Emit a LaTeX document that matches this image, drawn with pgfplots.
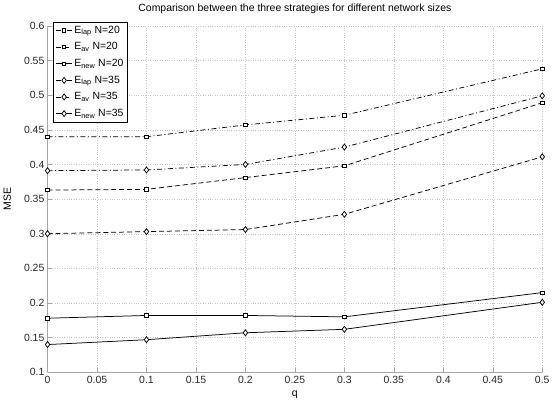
\documentclass[border=0pt]{standalone}
\usepackage{fontspec}
\setmainfont{Liberation Sans}
\usepackage{pgfplots}
\pgfplotsset{compat=1.18}

\begin{document}
\fontsize{10.5}{12}\selectfont
\begin{tikzpicture}
\begin{axis}[
    scale only axis,
    width=497pt, height=348pt,
    xmin=0, xmax=0.5, ymin=0.1, ymax=0.6,
    xtick={0,0.05,0.1,0.15,0.2,0.25,0.3,0.35,0.4,0.45,0.5},
    ytick={0.1,0.15,0.2,0.25,0.3,0.35,0.4,0.45,0.5,0.55,0.6},
    scaled ticks=false,
    /pgf/number format/.cd, fixed, precision=2, assume math mode=true,
    /pgfplots/.cd,
    ticklabel style={font=\fontsize{10.5}{12}\selectfont, text=black!85},
    yticklabel style={xshift=0.5pt},
    axis x line*=bottom, axis y line*=left,
    axis line style={-, gray!70, line width=0.6pt},
    tick align=inside, major tick length=4pt,
    tick style={gray!70, line width=0.5pt},
    grid=major,
    major grid style={dotted, gray!45, line width=0.4pt},
    title={Comparison between the three strategies for different network sizes},
    title style={font=\fontsize{10.5}{12}\selectfont, yshift=3pt},
    xlabel={q}, ylabel={MSE},
    xlabel style={font=\fontsize{10.5}{12}\selectfont, yshift=0pt},
    ylabel style={font=\fontsize{10.5}{12}\selectfont, yshift=6pt},
    legend cell align=left,
    legend style={at={(0.012,1.012)}, anchor=north west, draw=black,
        line width=0.7pt, fill=white, font=\fontsize{10.5}{12}\selectfont,
        row sep=3.8pt, inner sep=2pt},
    legend image code/.code={
        \draw[mark repeat=2, mark phase=2] plot coordinates {(0cm,0cm) (0.28cm,0cm) (0.56cm,0cm)};},
    every axis plot/.append style={black, line width=0.75pt},
]

\addplot[dash pattern=on 5pt off 2.5pt on 1pt off 2.5pt, mark=square*, mark size=1.7pt, mark options={solid, fill=white}]
coordinates {(0,0.440) (0.1,0.440) (0.2,0.457) (0.3,0.471) (0.5,0.538)};
\addlegendentry{E\textsubscript{lap} N=20}

\addplot[dash pattern=on 5pt off 3pt, mark=square*, mark size=1.7pt, mark options={solid, fill=white}]
coordinates {(0,0.363) (0.1,0.364) (0.2,0.381) (0.3,0.398) (0.5,0.489)};
\addlegendentry{E\textsubscript{av} N=20}

\addplot[solid, mark=square*, mark size=1.7pt, mark options={solid, fill=white}]
coordinates {(0,0.178) (0.1,0.182) (0.2,0.182) (0.3,0.180) (0.5,0.215)};
\addlegendentry{E\textsubscript{new} N=20}

\addplot[dash pattern=on 5pt off 2.5pt on 1pt off 2.5pt, mark=diamond*, mark size=3pt, mark options={solid, fill=white}]
coordinates {(0,0.391) (0.1,0.392) (0.2,0.400) (0.3,0.425) (0.5,0.499)};
\addlegendentry{E\textsubscript{lap} N=35}

\addplot[dash pattern=on 5pt off 3pt, mark=diamond*, mark size=3pt, mark options={solid, fill=white}]
coordinates {(0,0.300) (0.1,0.303) (0.2,0.306) (0.3,0.328) (0.5,0.411)};
\addlegendentry{E\textsubscript{av} N=35}

\addplot[solid, mark=diamond*, mark size=3pt, mark options={solid, fill=white}]
coordinates {(0,0.140) (0.1,0.147) (0.2,0.157) (0.3,0.162) (0.5,0.201)};
\addlegendentry{E\textsubscript{new} N=35}

\end{axis}
\end{tikzpicture}
\end{document}
